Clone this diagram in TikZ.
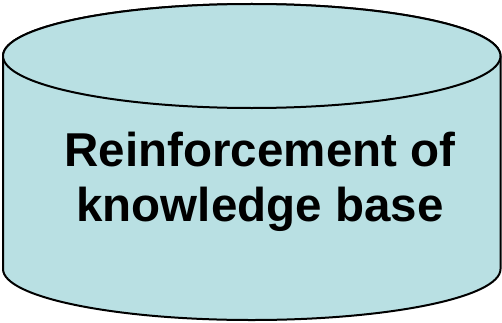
\documentclass[tikz,border=0pt]{standalone}
\usepackage{fontspec}
\setmainfont{Liberation Sans}
\definecolor{cylfill}{HTML}{B9E0E3}
\tikzset{
  cylbody/.style={fill=cylfill, draw=black, line width=2pt, line join=round},
  cyltext/.style={font=\fontsize{47.5}{55}\selectfont\bfseries, align=center, inner sep=0pt, text=black}
}
\begin{document}
\begin{tikzpicture}[x=1pt,y=1pt]
\useasboundingbox (0,0) rectangle (502,322);
\coordinate (cyl) at (251.75,266);
\path[cylbody] (3,266) -- (3,53)
  arc[start angle=180,end angle=360,x radius=248.75,y radius=51]
  -- (500.5,266)
  arc[start angle=0,end angle=180,x radius=248.75,y radius=52] -- cycle;
\draw[cylbody] (cyl) ellipse[x radius=248.75,y radius=52];
\node[cyltext] (label) at (260,139.8) {Reinforcement of\\knowledge base};
\end{tikzpicture}
\end{document}
